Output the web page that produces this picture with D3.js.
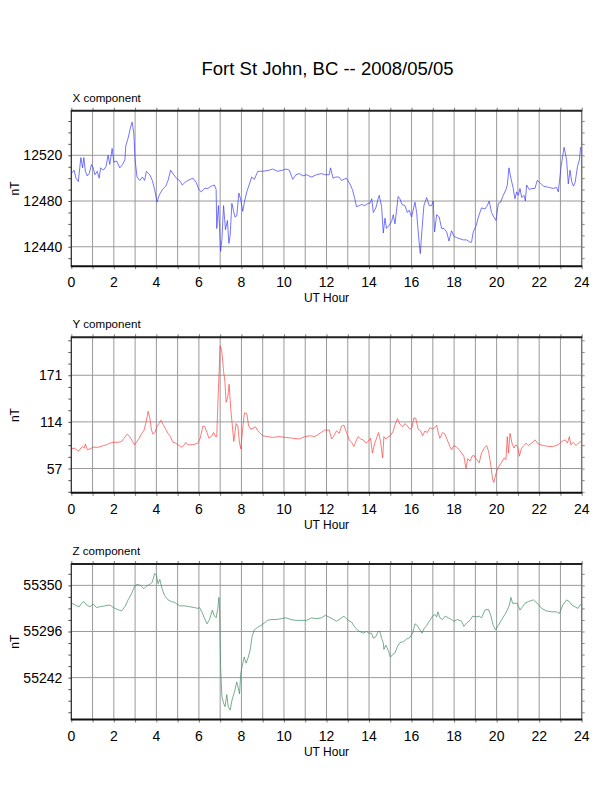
<!DOCTYPE html>
<html>
<head>
<meta charset="utf-8">
<script src="https://cdn.jsdelivr.net/npm/d3@7"></script>
<style>
  body { margin: 0; background: #fff; }
  text { font-family: "Liberation Sans", Arial, sans-serif; fill: #000; }
</style>
</head>
<body>
<script>
// X component (hour, nT)
const xHours = [0.00,0.13,0.22,0.33,0.45,0.53,0.59,0.66,0.75,0.84,0.95,1.03,1.11,1.22,1.31,1.38,1.50,1.63,1.73,1.81,1.92,2.00,2.13,2.28,2.41,2.52,2.56,2.67,2.78,2.86,2.94,3.00,3.09,3.22,3.34,3.45,3.53,3.69,3.81,3.92,4.03,4.13,4.28,4.44,4.55,4.67,4.78,4.94,5.09,5.22,5.33,5.48,5.72,5.88,6.00,6.11,6.27,6.42,6.58,6.73,6.81,6.84,6.92,6.97,7.02,7.08,7.16,7.25,7.34,7.41,7.47,7.55,7.63,7.70,7.78,7.88,7.97,8.06,8.14,8.25,8.38,8.48,8.61,8.77,9.00,9.31,9.47,9.70,9.94,10.09,10.25,10.41,10.56,10.72,10.90,11.06,11.29,11.53,11.76,11.92,12.13,12.19,12.31,12.44,12.58,12.71,12.94,13.10,13.22,13.33,13.41,13.54,13.65,13.80,13.96,14.04,14.13,14.20,14.32,14.43,14.48,14.59,14.67,14.75,14.82,14.95,15.06,15.14,15.22,15.37,15.45,15.55,15.69,15.80,15.89,16.00,16.16,16.24,16.33,16.41,16.49,16.58,16.71,16.83,16.94,17.02,17.08,17.18,17.30,17.41,17.52,17.65,17.76,17.88,17.99,18.12,18.27,18.43,18.59,18.75,18.82,18.90,19.03,19.14,19.29,19.45,19.56,19.65,19.76,19.87,19.97,20.08,20.19,20.31,20.44,20.50,20.58,20.66,20.78,20.86,20.94,21.02,21.10,21.18,21.29,21.35,21.41,21.54,21.65,21.80,21.91,22.04,22.20,22.43,22.67,22.82,22.90,23.03,23.17,23.29,23.37,23.45,23.53,23.61,23.69,23.80,23.89,23.95,24.00];
const xValues = [12504,12507,12500,12497,12518,12509,12518,12506,12502,12504,12512,12509,12503,12506,12500,12509,12507,12510,12520,12512,12526,12514,12515,12509,12512,12516,12528,12535,12544,12549,12539,12516,12501,12498,12501,12498,12506,12503,12498,12490,12479,12485,12490,12493,12498,12507,12504,12500,12498,12494,12496,12498,12500,12496,12490,12488,12491,12491,12493,12494,12490,12456,12476,12458,12436,12446,12476,12455,12463,12443,12450,12478,12471,12466,12467,12487,12481,12471,12479,12488,12495,12501,12499,12506,12506,12507,12508,12506,12507,12508,12507,12499,12503,12504,12502,12503,12501,12503,12504,12503,12503,12509,12500,12501,12501,12498,12500,12495,12490,12482,12475,12476,12477,12476,12478,12478,12482,12470,12474,12482,12485,12475,12452,12465,12456,12459,12462,12468,12460,12484,12482,12477,12476,12470,12472,12466,12479,12470,12449,12434,12455,12476,12483,12476,12476,12480,12453,12468,12466,12456,12456,12453,12445,12454,12449,12448,12447,12446,12446,12444,12444,12453,12458,12466,12474,12473,12476,12480,12470,12466,12463,12478,12479,12485,12490,12494,12509,12501,12491,12482,12488,12485,12491,12483,12485,12480,12494,12490,12491,12491,12498,12496,12493,12492,12491,12492,12488,12510,12527,12516,12495,12507,12497,12493,12496,12510,12516,12527,12526];

// Y component
const yHours = [0.00,0.13,0.25,0.34,0.45,0.53,0.61,0.66,0.75,0.88,1.03,1.27,1.50,1.66,1.81,2.00,2.20,2.36,2.48,2.63,2.75,2.88,2.97,3.06,3.19,3.31,3.41,3.53,3.61,3.69,3.77,3.84,3.94,4.03,4.13,4.22,4.31,4.44,4.55,4.66,4.78,4.91,5.02,5.17,5.28,5.38,5.48,5.72,5.95,6.06,6.19,6.28,6.38,6.47,6.58,6.69,6.78,6.84,6.91,7.00,7.08,7.16,7.22,7.28,7.36,7.42,7.50,7.56,7.64,7.75,7.83,7.91,7.97,8.05,8.14,8.25,8.34,8.45,8.66,8.77,9.00,9.23,9.47,9.78,10.09,10.41,10.72,10.98,11.22,11.45,11.69,11.92,12.13,12.24,12.35,12.47,12.60,12.71,12.82,12.94,13.07,13.18,13.29,13.38,13.49,13.60,13.73,13.85,13.96,14.07,14.16,14.27,14.38,14.45,14.54,14.64,14.70,14.79,14.90,15.01,15.14,15.23,15.34,15.45,15.58,15.69,15.80,15.92,16.02,16.11,16.20,16.31,16.42,16.52,16.63,16.74,16.86,16.99,17.10,17.18,17.25,17.33,17.46,17.57,17.68,17.80,17.88,17.99,18.12,18.24,18.35,18.46,18.56,18.64,18.75,18.84,18.93,19.06,19.18,19.29,19.42,19.53,19.62,19.72,19.81,19.87,19.97,20.08,20.20,20.35,20.44,20.50,20.56,20.63,20.72,20.82,20.91,21.00,21.07,21.16,21.25,21.38,21.49,21.65,21.80,21.96,22.20,22.43,22.67,22.90,23.06,23.22,23.33,23.42,23.49,23.61,23.73,23.84,23.95,24.00];
const yValues = [81,82,80,78,82,84,82,87,80,81,83,83,85,86,88,89,89,90,94,99,96,90,86,89,94,100,103,115,127,119,104,99,101,109,112,116,111,105,100,96,89,88,86,83,85,89,86,86,88,94,109,108,101,94,96,101,96,96,149,207,200,176,164,138,145,160,129,113,90,112,109,88,81,103,125,124,109,105,108,103,97,96,95,96,95,94,93,96,97,96,100,104,104,93,97,103,100,109,110,101,92,89,84,90,96,93,92,88,90,94,76,88,96,101,90,70,96,93,96,97,103,111,118,111,108,112,109,105,107,119,118,105,103,97,103,101,107,105,107,110,101,94,101,99,92,84,80,85,83,80,76,72,57,69,66,72,73,68,64,76,82,85,78,62,44,40,51,59,63,70,68,96,76,100,88,82,86,83,72,81,84,88,85,88,92,87,85,84,84,86,90,92,88,96,86,89,85,88,90,90];

// Z component
const zHours = [0.00,0.13,0.25,0.38,0.48,0.59,0.72,0.88,1.03,1.19,1.34,1.58,1.81,2.05,2.25,2.36,2.52,2.67,2.83,2.98,3.09,3.25,3.41,3.53,3.69,3.81,3.92,4.00,4.08,4.16,4.27,4.39,4.55,4.70,4.86,5.09,5.33,5.56,5.80,5.95,6.03,6.14,6.27,6.38,6.50,6.63,6.73,6.81,6.89,6.94,6.97,7.02,7.08,7.16,7.23,7.31,7.38,7.47,7.56,7.67,7.78,7.84,7.91,7.97,8.03,8.13,8.22,8.31,8.41,8.50,8.61,8.77,8.92,9.08,9.23,9.39,9.63,9.86,10.09,10.33,10.56,10.72,11.06,11.29,11.53,11.76,11.95,12.19,12.47,12.71,12.82,13.02,13.18,13.33,13.49,13.73,13.88,14.00,14.12,14.20,14.32,14.43,14.51,14.59,14.67,14.70,14.79,14.90,15.01,15.11,15.22,15.33,15.45,15.61,15.76,15.92,16.05,16.16,16.27,16.39,16.49,16.58,16.71,16.86,16.99,17.10,17.18,17.24,17.33,17.46,17.58,17.73,17.88,17.99,18.15,18.35,18.46,18.59,18.75,18.87,19.03,19.18,19.29,19.45,19.61,19.72,19.84,19.95,20.08,20.24,20.39,20.50,20.60,20.67,20.75,20.86,20.97,21.10,21.22,21.33,21.49,21.73,21.91,22.12,22.35,22.59,22.82,22.95,23.11,23.29,23.42,23.53,23.69,23.82,23.92,24.00];
const zValues = [55329,55328,55326,55325,55329,55331,55327,55325,55328,55324,55325,55326,55327,55323,55321,55320,55325,55333,55340,55349,55351,55350,55346,55349,55351,55354,55364,55362,55352,55357,55346,55338,55333,55331,55330,55326,55326,55325,55324,55323,55324,55319,55311,55305,55310,55321,55314,55312,55323,55336,55325,55255,55220,55212,55208,55222,55208,55204,55216,55225,55237,55231,55223,55247,55255,55266,55259,55265,55274,55290,55298,55301,55303,55306,55309,55310,55310,55311,55312,55310,55309,55309,55309,55312,55311,55312,55315,55312,55308,55312,55314,55309,55307,55301,55297,55294,55296,55294,55294,55288,55290,55296,55296,55288,55283,55275,55280,55274,55266,55269,55271,55278,55283,55284,55287,55289,55294,55305,55303,55298,55294,55299,55303,55309,55314,55316,55313,55319,55312,55310,55314,55312,55310,55308,55310,55308,55302,55306,55309,55314,55313,55314,55312,55321,55322,55315,55303,55298,55303,55310,55316,55321,55327,55336,55329,55329,55329,55321,55325,55329,55331,55333,55329,55323,55320,55319,55319,55317,55327,55333,55331,55327,55325,55323,55327,55328];

const hourTicks = d3.range(0, 25, 2);
const xTickValues = [12440, 12480, 12520];
const yTickValues = [57, 114, 171];
const zTickValues = [55242, 55296, 55350];

const panels = [
  { label: "X component", hours: xHours, values: xValues, ticks: xTickValues, minor: 10,
    domain: [12423, 12559], top: 110.7, color: "#3a3aff" },
  { label: "Y component", hours: yHours, values: yValues, ticks: yTickValues, minor: 14.25,
    domain: [27.3, 217.4], top: 337.3, color: "#ff4040" },
  { label: "Z component", hours: zHours, values: zValues, ticks: zTickValues, minor: 13.5,
    domain: [55193, 55375], top: 564, color: "#3d8b60" }
];

const W = 612, H = 792;
const left = 71.3, right = 581.7, ph = 155.5;

const svg = d3.select("body").append("svg")
  .attr("width", W).attr("height", H);

svg.append("text")
  .attr("x", 327.5).attr("y", 75)
  .attr("text-anchor", "middle")
  .style("font-size", "18.5px")
  .text("Fort St John, BC -- 2008/05/05");

const x = d3.scaleLinear().domain([0, 24]).range([left, right]);

panels.forEach(p => {
  const g = svg.append("g");
  const top = p.top, bottom = p.top + ph;
  const y = d3.scaleLinear().domain(p.domain).range([bottom, top]);

  // grid
  g.selectAll(".vg").data(d3.range(1, 24)).enter().append("line")
    .attr("x1", d => x(d)).attr("x2", d => x(d))
    .attr("y1", top).attr("y2", bottom)
    .attr("stroke", "#9a9a9a").attr("stroke-width", 1);
  g.selectAll(".hg").data(p.ticks).enter().append("line")
    .attr("x1", left).attr("x2", right)
    .attr("y1", d => y(d)).attr("y2", d => y(d))
    .attr("stroke", "#9a9a9a").attr("stroke-width", 1);

  // minor ticks on left/right
  const t0 = p.ticks[0];
  const minorTicks = d3.range(-20, 20).map(k => t0 + k * p.minor)
    .filter(v => v > p.domain[0] && v < p.domain[1]);
  const axL = d3.axisLeft(y).tickValues(minorTicks).tickSize(3).tickFormat("");
  const axR = d3.axisRight(y).tickValues(minorTicks).tickSize(3).tickFormat("");
  g.append("g").attr("transform", `translate(${left},0)`).call(axL)
    .call(a => a.select(".domain").remove())
    .selectAll("line").attr("stroke", "#555");
  g.append("g").attr("transform", `translate(${right},0)`).call(axR)
    .call(a => a.select(".domain").remove())
    .selectAll("line").attr("stroke", "#888");

  // hour ticks top/bottom
  const axT = d3.axisTop(x).tickValues(d3.range(0, 25)).tickSize(3).tickFormat("");
  const axB = d3.axisBottom(x).tickValues(d3.range(0, 25)).tickSize(3).tickFormat("");
  g.append("g").attr("transform", `translate(0,${top})`).call(axT)
    .call(a => a.select(".domain").remove())
    .selectAll("line").attr("stroke", "#777");
  g.append("g").attr("transform", `translate(0,${bottom})`).call(axB)
    .call(a => a.select(".domain").remove())
    .selectAll("line").attr("stroke", "#777");

  // data line
  const pts = p.hours.map((h, i) => [h, p.values[i]]);
  g.append("path").datum(pts)
    .attr("fill", "none").attr("stroke", p.color).attr("stroke-width", 0.7)
    .attr("d", d3.line().x(d => x(d[0])).y(d => y(d[1])));

  // frame
  g.append("line").attr("x1", left).attr("x2", left).attr("y1", top).attr("y2", bottom)
    .attr("stroke", "#222").attr("stroke-width", 1.2);
  g.append("line").attr("x1", right).attr("x2", right).attr("y1", top).attr("y2", bottom)
    .attr("stroke", "#777").attr("stroke-width", 1.5);
  g.append("line").attr("x1", left - 0.5).attr("x2", right + 0.5).attr("y1", top).attr("y2", top)
    .attr("stroke", "#222").attr("stroke-width", 2);
  g.append("line").attr("x1", left - 0.5).attr("x2", right + 0.5).attr("y1", bottom).attr("y2", bottom)
    .attr("stroke", "#111").attr("stroke-width", 2);

  // y labels
  g.selectAll(".yl").data(p.ticks).enter().append("text")
    .attr("x", left - 9).attr("y", d => y(d) + 5)
    .attr("text-anchor", "end").style("font-size", "14px")
    .text(d => d);

  // x labels
  g.selectAll(".xl").data(hourTicks).enter().append("text")
    .attr("x", d => x(d)).attr("y", bottom + 21)
    .attr("text-anchor", "middle").style("font-size", "14px")
    .text(d => d);

  g.append("text").attr("x", x(12)).attr("y", bottom + 36)
    .attr("text-anchor", "middle").style("font-size", "12px").text("UT Hour");

  g.append("text").attr("x", 72.5).attr("y", top - 9)
    .style("font-size", "11.6px").text(p.label);

  g.append("text")
    .attr("transform", `translate(19,${(top + bottom) / 2}) rotate(-90)`)
    .attr("text-anchor", "middle").style("font-size", "12px").text("nT");
});
</script>
</body>
</html>
